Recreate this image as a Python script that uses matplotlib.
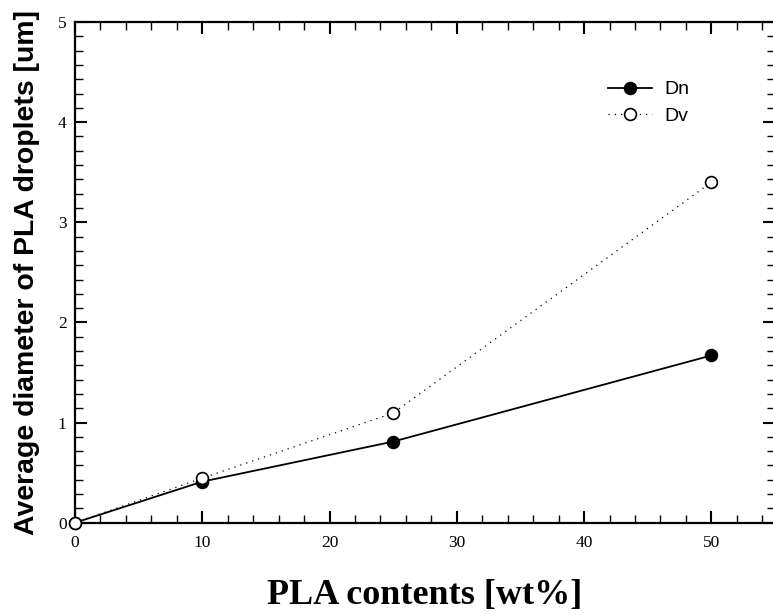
import numpy as np
import matplotlib
matplotlib.use('Agg')
import matplotlib.pyplot as plt
from matplotlib.ticker import MultipleLocator

# data
pla_wt = [0, 10, 25, 50]
dn = [0, 0.41, 0.81, 1.67]
dv = [0, 0.445, 1.095, 3.40]

fig = plt.figure(figsize=(7.73, 6.15), dpi=100)
ax = fig.add_axes([75/773, (615-522.7)/615, 700/773, 500.7/615])

ax.plot(pla_wt, dn, '-', color='black', lw=1.3, marker='o', ms=8.5,
        mfc='black', mec='black', mew=1.2, label='Dn', clip_on=False, zorder=3)
ax.plot(pla_wt, dv, color='black', lw=0.9, ls=(0, (1, 4)), marker='o', ms=8.5,
        mfc='white', mec='black', mew=1.2, label='Dv', clip_on=False, zorder=4)

ax.set_xlim(0, 55)
ax.set_ylim(0, 5)
ax.xaxis.set_major_locator(MultipleLocator(10))
ax.xaxis.set_minor_locator(MultipleLocator(2))
ax.yaxis.set_major_locator(MultipleLocator(1))
ax.yaxis.set_minor_locator(MultipleLocator(1/7))

for s in ax.spines.values():
    s.set_linewidth(1.6)

ax.tick_params(which='both', direction='in', top=True, right=True)
ax.tick_params(which='major', length=8.5, width=1.5)
ax.tick_params(which='minor', length=6, width=1.0)
ax.tick_params(axis='x', which='major', pad=9)
ax.tick_params(axis='y', which='major', pad=6)
for lab in ax.get_xticklabels() + ax.get_yticklabels():
    lab.set_fontfamily('Liberation Serif')
    lab.set_fontsize(12.5)

ax.set_xlabel('PLA contents [wt%]', fontfamily='Liberation Serif',
              fontweight='bold', fontsize=26, labelpad=20)
ax.set_ylabel('Average diameter of PLA droplets [um]', fontfamily='Liberation Sans',
              fontweight='bold', fontsize=20.4, labelpad=13)

ax.legend(loc='upper left', bbox_to_anchor=(0.747, 0.902), frameon=False,
          prop={'family': 'Liberation Sans', 'size': 14},
          handlelength=2.3, handletextpad=0.6, labelspacing=0.45, borderpad=0)

fig.savefig('out.png', dpi=100)
